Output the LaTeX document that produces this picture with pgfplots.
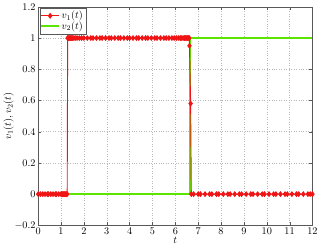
\documentclass[border=0pt]{standalone}
\usepackage{pgfplots}
\pgfplotsset{compat=1.18}
\definecolor{mygreen}{RGB}{90,230,0}
\definecolor{myred}{RGB}{240,20,20}
\begin{document}
\begin{tikzpicture}
\begin{axis}[
  width=268pt, height=213.5pt, scale only axis,
  xmin=0, xmax=12, ymin=-0.2, ymax=1.2,
  xtick={0,1,...,12},
  ytick={-0.2,0,0.2,0.4,0.6,0.8,1,1.2},
  yticklabels={$-0.2$,0,0.2,0.4,0.6,0.8,1,1.2},
  tick align=inside, tick pos=both,
  major tick length=3pt,
  grid=major,
  grid style={dotted, gray!55},
  axis line style={gray!70!black},
  tick style={gray!70!black},
  ticklabel style={font=\normalsize},
  xticklabel style={yshift=1pt},
  yticklabel style={xshift=1pt},
  xlabel={$t$}, ylabel={$v_1(t), v_2(t)$},
  xlabel style={yshift=4pt},
  ylabel style={yshift=-6pt},
  legend pos=north west,
  legend cell align=left,
  legend style={font=\normalsize, inner sep=1pt, row sep=-3pt, draw=gray!70!black, at={(0.005,0.995)}},
]
\addplot[mygreen, line width=1.3pt, forget plot] coordinates {(0,0) (6.64,0) (6.64,1) (12,1)};
\addplot[myred, line width=0.9pt, mark=diamond*, mark size=2.2pt, mark options={solid, fill=myred}] coordinates {
(0,0) (0.1,0) (0.2,0) (0.3,0) (0.4,0) (0.45,0) (0.55,0) (0.65,0) (0.75,0) (0.8,0) (0.9,0)
(1.0,0) (1.03,0) (1.06,0) (1.09,0) (1.12,0) (1.15,0) (1.18,0) (1.21,0) (1.24,0) (1.27,0)
(1.29,1) (1.32,1) (1.35,1) (1.38,1) (1.42,1) (1.46,1) (1.5,1) (1.56,1) (1.62,1) (1.7,1) (1.8,1)
(1.9,1) (2.0,1) (2.15,1) (2.3,1) (2.4,1) (2.55,1) (2.7,1) (2.8,1) (2.95,1) (3.1,1) (3.2,1)
(3.35,1) (3.5,1) (3.6,1) (3.75,1) (3.9,1) (4.0,1) (4.15,1) (4.3,1) (4.4,1) (4.55,1) (4.7,1)
(4.8,1) (4.95,1) (5.1,1) (5.2,1) (5.35,1) (5.5,1) (5.6,1) (5.72,1) (5.85,1) (5.95,1) (6.05,1)
(6.15,1) (6.22,1) (6.28,1) (6.34,1) (6.4,1) (6.45,1) (6.5,1) (6.54,1) (6.58,1) (6.61,1)
(6.62,0.95) (6.67,0.58) (6.7,0)
(6.8,0) (7.0,0) (7.1,0) (7.3,0) (7.5,0) (7.6,0) (7.8,0) (7.9,0) (8.1,0) (8.3,0) (8.4,0)
(8.6,0) (8.8,0) (8.9,0) (9.1,0) (9.3,0) (9.4,0) (9.6,0) (9.8,0) (9.9,0) (10.1,0) (10.3,0)
(10.4,0) (10.6,0) (10.8,0) (10.9,0) (11.1,0) (11.3,0) (11.4,0) (11.6,0) (11.8,0) (11.9,0) (12,0)
};
\addlegendentry{$v_1(t)$}
\addlegendimage{mygreen, line width=1.3pt}
\addlegendentry{$v_2(t)$}
\end{axis}
\end{tikzpicture}
\end{document}
